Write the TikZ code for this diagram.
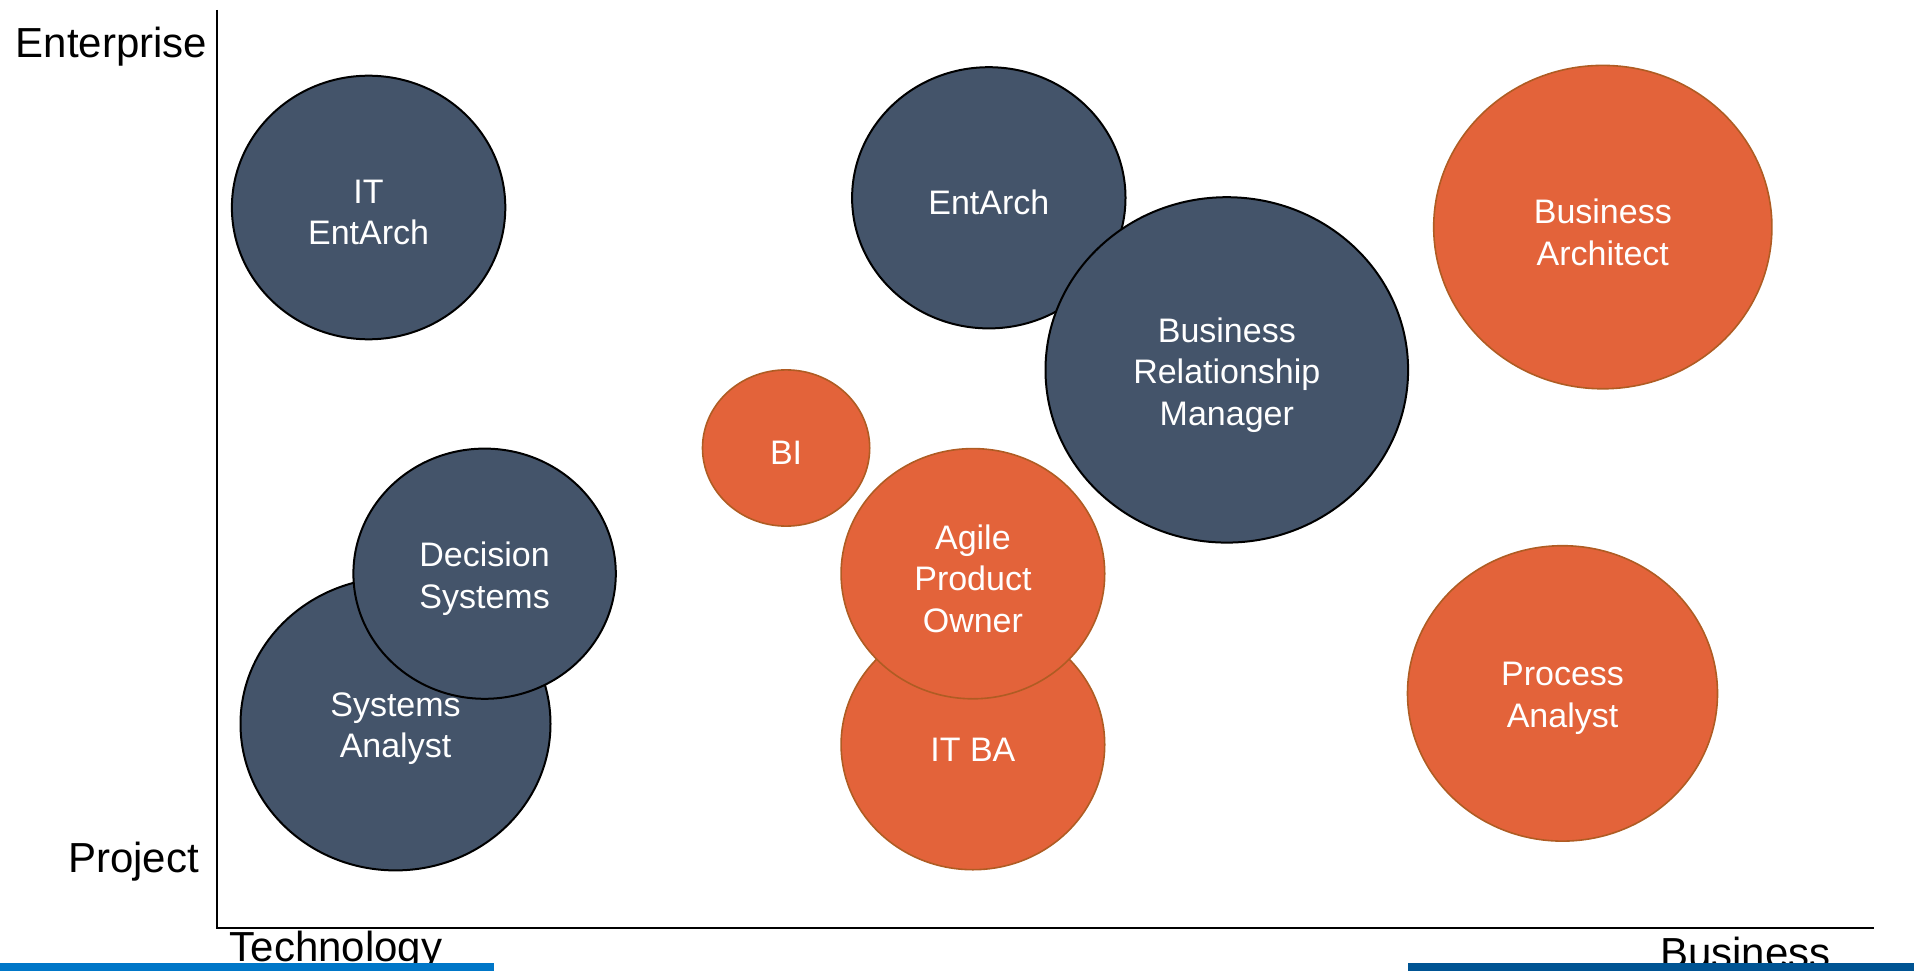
\documentclass[tikz,border=0pt]{standalone}
\usepackage{fontspec}
\setmainfont{Liberation Sans}
\usetikzlibrary{shapes.geometric}
\definecolor{slate}{RGB}{68,84,106}
\definecolor{orangefill}{RGB}{227,99,58}
\definecolor{orangeline}{RGB}{175,92,35}
\definecolor{barleft}{RGB}{0,119,200}
\definecolor{barright}{RGB}{0,84,147}
\tikzset{
  bubble/.style={ellipse, inner sep=0pt},
  darkb/.style={bubble, fill=slate, draw=black, line width=2pt},
  orangeb/.style={bubble, fill=orangefill, draw=orangeline, line width=1.6pt},
  bubbletext/.style={inner sep=0pt, align=center, text=white, yshift=-5pt,
    font=\fontsize{34}{41.5}\selectfont},
  axislabel/.style={inner sep=0pt, font=\fontsize{42}{50}\selectfont, text=black},
}
\begin{document}
\begin{tikzpicture}[x=1pt,y=-1pt]
\useasboundingbox (0,0) rectangle (1914,971);
% axes
\coordinate (ytop) at (217.3,9.8);
\coordinate (origin) at (217.3,927.7);
\coordinate (xend) at (1873.8,927.7);
\draw[line width=2.2pt] (ytop) -- (origin) -- (xend);
% axis labels
\node[axislabel, anchor=east] (enterprise) at (207.5,46.5) {Enterprise};
\node[axislabel, anchor=east] (project) at (199,862) {Project};
\node[axislabel, anchor=west] (technology) at (229.5,951) {Technology};
\node[axislabel, anchor=west] (business) at (1660,952) {Business};
% bars
\fill[barleft] (0,963) rectangle (494,971);
\fill[barright] (1407.5,963) rectangle (1914,971);
% bubbles
\node[darkb, minimum width=273.4pt, minimum height=263.6pt,
  label={[bubbletext]center:{IT\\EntArch}}] (itea) at (368.6,207.5) {};
\node[darkb, minimum width=273.4pt, minimum height=261.2pt,
  label={[bubbletext]center:{EntArch}}] (entarch) at (988.8,197.8) {};
\node[darkb, minimum width=362.6pt, minimum height=345.4pt,
  label={[bubbletext]center:{Business\\Relationship\\Manager}}] (brm) at (1226.8,369.9) {};
\node[orangeb, minimum width=338.2pt, minimum height=323.4pt,
  label={[bubbletext]center:{Business\\Architect}}] (ba) at (1602.8,227.1) {};
\node[orangeb, minimum width=167.2pt, minimum height=156.2pt,
  label={[bubbletext]center:{BI}}] (bi) at (786.1,448) {};
\node[darkb, minimum width=310pt, minimum height=293pt,
  label={[bubbletext]center:{Systems\\Analyst}}] (sa) at (395.5,723.9) {};
\node[darkb, minimum width=262.4pt, minimum height=250.2pt,
  label={[bubbletext]center:{Decision\\Systems}}] (ds) at (484.6,573.7) {};
\node[orangeb, minimum width=263.6pt, minimum height=250.2pt,
  label={[bubbletext]center:{IT BA}}] (itba) at (972.9,744.6) {};
\node[orangeb, minimum width=263.6pt, minimum height=250.2pt,
  label={[bubbletext]center:{Agile\\Product\\Owner}}] (apo) at (972.9,573.7) {};
\node[orangeb, minimum width=310pt, minimum height=295.4pt,
  label={[bubbletext]center:{Process\\Analyst}}] (pa) at (1562.5,693.4) {};
\end{tikzpicture}
\end{document}
